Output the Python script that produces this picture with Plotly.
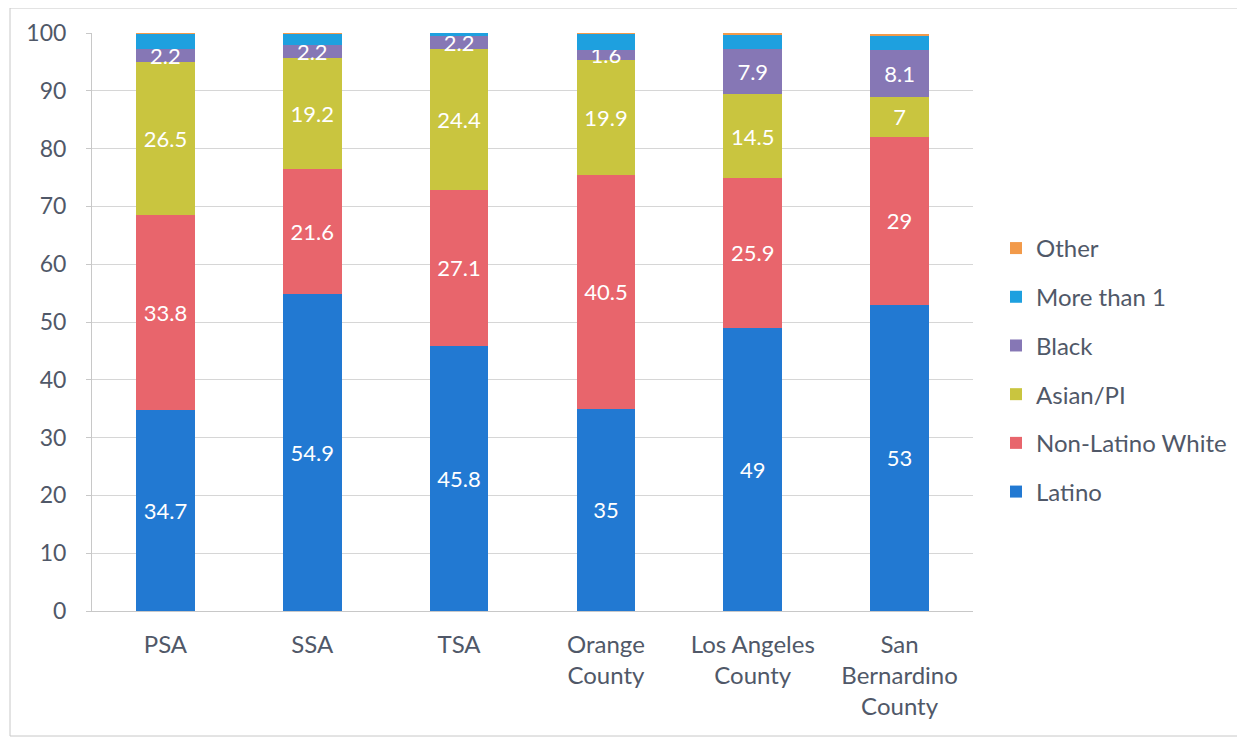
import plotly.graph_objects as go

categories = ["PSA", "SSA", "TSA", "Orange<br>County", "Los Angeles<br>County", "San<br>Bernardino<br>County"]
latino = [34.7, 54.9, 45.8, 35, 49, 53]
non_latino_white = [33.8, 21.6, 27.1, 40.5, 25.9, 29]
asian_pi = [26.5, 19.2, 24.4, 19.9, 14.5, 7]
black = [2.2, 2.2, 2.2, 1.6, 7.9, 8.1]
more_than_1 = [2.7, 2.0, 0.5, 2.9, 2.5, 2.4]
other = [0.1, 0.1, 0.0, 0.1, 0.2, 0.4]

series = [
    ("Latino", latino, "#2279d2", True),
    ("Non-Latino White", non_latino_white, "#e8656c", True),
    ("Asian/PI", asian_pi, "#c9c53f", True),
    ("Black", black, "#8677b5", True),
    ("More than 1", more_than_1, "#1ea0df", False),
    ("Other", other, "#f29a4a", False),
]

font_family = "Lato, 'Open Sans', sans-serif"
text_color = "#505868"
fig = go.Figure()
n = len(series)
for i, (name, vals, color, show_text) in enumerate(series):
    fig.add_trace(go.Bar(
        x=categories, y=vals, name=name,
        marker=dict(color=color, line=dict(width=0)),
        text=[f"{v:g}" for v in vals] if show_text else None,
        textposition="inside" if show_text else "none",
        insidetextanchor="middle",
        textangle=0,
        constraintext="none",
        textfont=dict(color="white", size=22, family=font_family),
        legendgroup=f"g{i}",
        legendrank=n - i,
        hoverinfo="name+y",
    ))

W, H = 1237, 732
L, T = 84, 25
PW, PH = 881, 578
fig.update_layout(
    barmode="stack",
    bargap=0.6,
    width=W, height=H,
    margin=dict(l=L, r=W - L - PW, t=T, b=H - T - PH, autoexpand=False),
    paper_bgcolor="white",
    plot_bgcolor="white",
    font=dict(family=font_family, size=24, color=text_color),
    uniformtext=dict(mode=False),
    legend=dict(
        x=(988 - L) / PW, y=0.417, xanchor="left", yanchor="middle",
        traceorder="grouped",
        tracegroupgap=14.5,
        font=dict(size=24, color=text_color, family=font_family),
        itemwidth=30,
    ),
    showlegend=True,
)
fig.update_yaxes(
    range=[0, 100], dtick=10,
    showgrid=True, gridcolor="#d6d6d6", gridwidth=1,
    showline=True, linecolor="#c8c8c8",
    ticks="outside", ticklen=5, tickcolor="#c8c8c8",
    tickfont=dict(size=23, color=text_color),
    ticklabelstandoff=15,
    zeroline=False,
    automargin=False,
)
fig.update_xaxes(
    showline=True, linecolor="#c8c8c8",
    tickfont=dict(size=24, color=text_color),
    ticklabelstandoff=12,
    automargin=False,
)
fig.add_shape(type="rect", xref="paper", yref="paper",
              x0=-(L - 2) / PW, x1=(W - 6 - L) / PW, y0=-(H - 4 - T - PH) / PH, y1=(PH + T - 0) / PH,
              line=dict(color="#c8c8c8", width=1), fillcolor="rgba(0,0,0,0)", layer="below")

fig.write_html("out.html")
